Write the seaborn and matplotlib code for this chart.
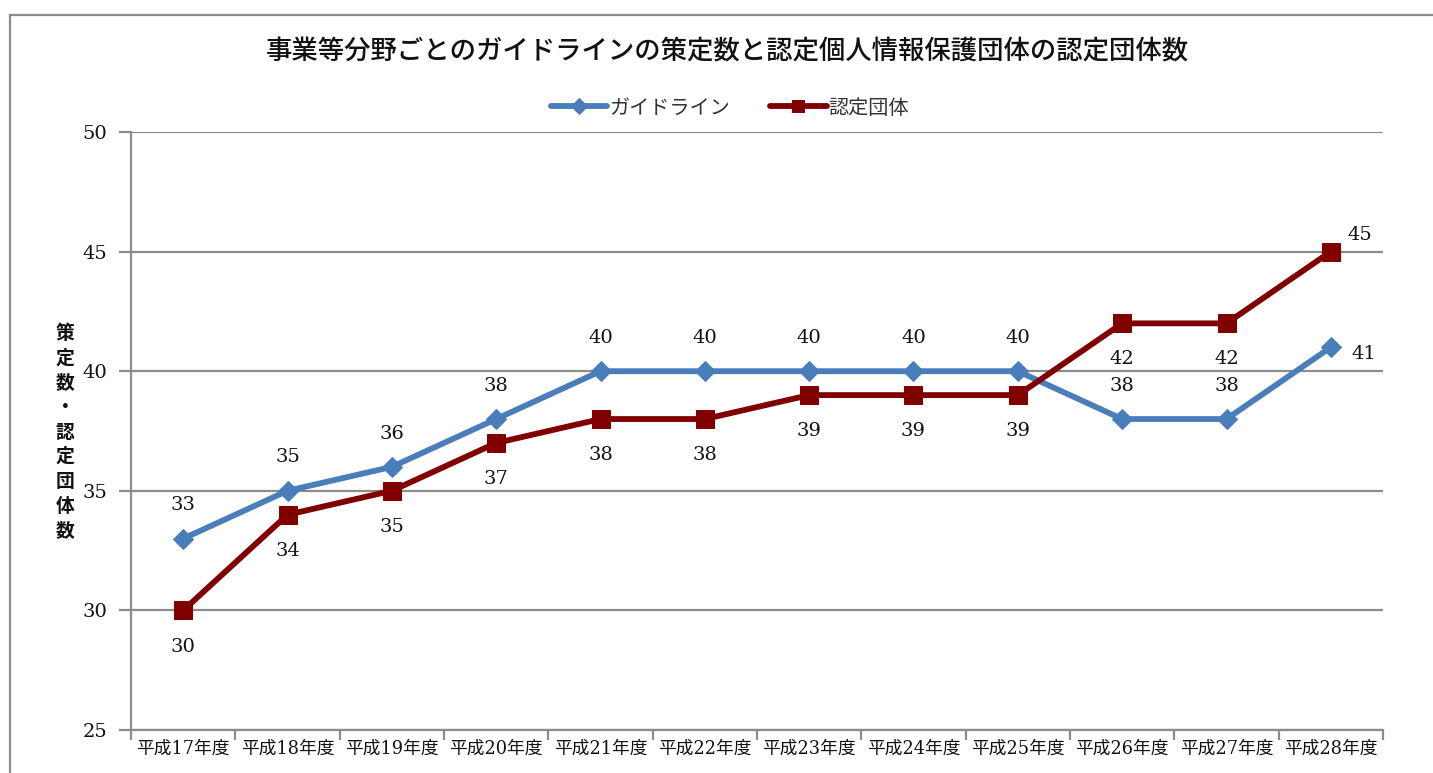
import numpy as np
import pandas as pd
import matplotlib
matplotlib.use("Agg")
import matplotlib.pyplot as plt
import seaborn as sns
from matplotlib.lines import Line2D

categories = ["平成17年度", "平成18年度", "平成19年度", "平成20年度", "平成21年度", "平成22年度",
              "平成23年度", "平成24年度", "平成25年度", "平成26年度", "平成27年度", "平成28年度"]
guideline = [33, 35, 36, 38, 40, 40, 40, 40, 40, 38, 38, 41]
certified = [30, 34, 35, 37, 38, 38, 39, 39, 39, 42, 42, 45]
series_names = ["ガイドライン", "認定団体"]
title = "事業等分野ごとのガイドラインの策定数と認定個人情報保護団体の認定団体数"
ylabel = "策定数・認定団体数"
yticks = [25, 30, 35, 40, 45, 50]

sns.set_theme(style="white")
plt.rcParams['font.family'] = ['DejaVu Serif', 'Noto Sans CJK JP']

W, H = 1433, 773
fig = plt.figure(figsize=(W / 100, H / 100), dpi=100)
ax = fig.add_axes([131 / W, 1 - 730 / H, (1383 - 131) / W, (730 - 132) / H])

GRID = "#8c8c8c"
BLUE = "#4a7ebb"
RED = "#800000"

x = np.arange(len(categories))
df = pd.DataFrame({"x": x, "g": guideline, "c": certified})

sns.lineplot(data=df, x="x", y="g", ax=ax, color=BLUE, lw=4.2, marker="D", markersize=10,
             markeredgecolor=BLUE, label=series_names[0], zorder=3)
sns.lineplot(data=df, x="x", y="c", ax=ax, color=RED, lw=4.2, marker="s", markersize=13.5,
             markeredgecolor=RED, label=series_names[1], zorder=4)

ax.set_xlim(-0.5, len(categories) - 0.5)
ax.set_ylim(25, 50)
ax.set_yticks(yticks)
ax.set_yticklabels([str(v) for v in yticks], fontsize=14, color="#111111")
ax.yaxis.grid(True, color=GRID, lw=1.6)
ax.set_axisbelow(True)

# x ticks at boundaries, labels at centers
ax.set_xticks(np.arange(-0.5, len(categories), 1.0))
ax.set_xticklabels([])
ax.set_xticks(x, minor=True)
ax.set_xticklabels(categories, minor=True, fontsize=12.8, color="#111111")
ax.tick_params(axis="x", which="major", direction="out", length=7, width=1.6, color=GRID, bottom=True)
ax.tick_params(axis="x", which="minor", length=0, pad=7)
ax.tick_params(axis="y", direction="out", length=9, width=1.6, color=GRID, left=True, pad=8)
ax.set_xlabel("")
ax.set_ylabel("")

for s in ["top", "right"]:
    ax.spines[s].set_visible(False)
for s in ["left", "bottom"]:
    ax.spines[s].set_color(GRID)
    ax.spines[s].set_linewidth(1.6)

# data labels
lab_kw = dict(fontsize=14, color="#111111", ha="center", va="center")
for i, v in enumerate(guideline):
    if i == len(guideline) - 1:
        ax.annotate(str(v), (i, v), xytext=(24, -5), textcoords="offset points", **lab_kw)
    else:
        ax.annotate(str(v), (i, v), xytext=(0, 24), textcoords="offset points", **lab_kw)
for i, v in enumerate(certified):
    if i == len(certified) - 1:
        ax.annotate(str(v), (i, v), xytext=(21, 12), textcoords="offset points", **lab_kw)
    else:
        ax.annotate(str(v), (i, v), xytext=(0, -26), textcoords="offset points", **lab_kw)

# legend
leg = ax.legend(loc="center", bbox_to_anchor=(730 / W, 1 - 108 / H), bbox_transform=fig.transFigure,
                ncol=2, frameon=False, handlelength=2.8, columnspacing=2.0, handletextpad=0.1,
                prop={"family": ["Noto Sans CJK JP"], "size": 14.5})
for h in leg.legend_handles:
    h.set_markersize(8)
for t in leg.get_texts():
    t.set_color("#333333")

# title
fig.text(727 / W, 1 - 52 / H, title, ha="center", va="center", fontsize=19,
         family=["Noto Sans CJK JP"], weight="medium", color="#111111")

# vertical stacked y label
fig.text(65 / W, 1 - 432 / H, "\n".join(list(ylabel)), ha="center", va="center", fontsize=13.5,
         family=["Noto Sans CJK JP"], weight="bold", color="#111111", linespacing=1.38)

# outer chart-area border
fig.add_artist(Line2D([10 / W, 10 / W], [0, 1 - 15 / H], transform=fig.transFigure, color=GRID, lw=1.6))
fig.add_artist(Line2D([10 / W, 1], [1 - 15 / H, 1 - 15 / H], transform=fig.transFigure, color=GRID, lw=1.6))

fig.savefig("out.png", dpi=100, facecolor="white")
